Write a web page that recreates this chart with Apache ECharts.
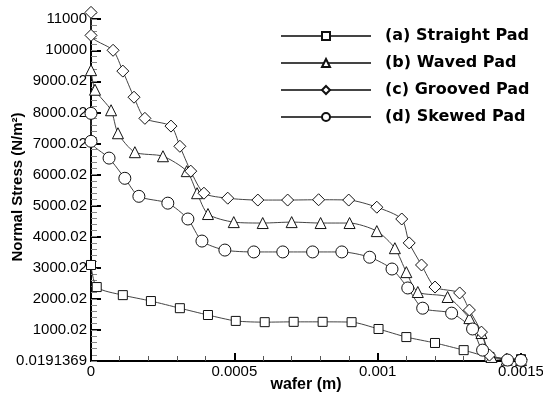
<!DOCTYPE html>
<html>
<head>
<meta charset="utf-8">
<script src="https://cdn.jsdelivr.net/npm/echarts@6/dist/echarts.min.js"></script>
<style>
  html, body { margin: 0; padding: 0; background: #fff; }
  #chart { width: 543px; height: 397px; }
</style>
</head>
<body>
<div id="chart"></div>
<script>
// Data
const seriesNames = ['(a) Straight Pad', '(b) Waved Pad', '(c) Grooved Pad', '(d) Skewed Pad']

const straightX = [0, 0.00002, 0.000111, 0.000209, 0.00031, 0.000408, 0.000505, 0.000606, 0.000707, 0.000808, 0.000909, 0.001003, 0.0011, 0.0012, 0.0013, 0.00139, 0.0015]
const straightY = [3090, 2380, 2120, 1930, 1700, 1480, 1290, 1250, 1260, 1260, 1250, 1030, 770, 580, 350, 130, 60]

const wavedX = [0, 0.000014, 0.00007, 0.000094, 0.000153, 0.000251, 0.000334, 0.00037, 0.000408, 0.000498, 0.000599, 0.0007, 0.000801, 0.000902, 0.000997, 0.00106, 0.0011, 0.00114, 0.001244, 0.00132, 0.001362, 0.001397, 0.00145, 0.0015]
const wavedY = [9360, 8730, 8070, 7330, 6720, 6590, 6110, 5400, 4730, 4470, 4440, 4470, 4440, 4440, 4180, 3630, 2860, 2220, 2060, 1380, 900, 130, 40, 30]

const groovedX = [0, 0, 0.000077, 0.000111, 0.00015, 0.000188, 0.000279, 0.00031, 0.000348, 0.000394, 0.000477, 0.000582, 0.000686, 0.000794, 0.000899, 0.000997, 0.001084, 0.00111, 0.001153, 0.0012, 0.001286, 0.00132, 0.001362, 0.00139, 0.00145, 0.0015]
const groovedY = [11220, 10480, 10000, 9330, 8490, 7810, 7560, 6910, 6110, 5400, 5240, 5180, 5180, 5190, 5180, 4950, 4570, 3800, 3090, 2380, 2190, 1640, 930, 190, 60, 40]

const skewedX = [0, 0, 0.000063, 0.000118, 0.000167, 0.000268, 0.000338, 0.000387, 0.000467, 0.000568, 0.000669, 0.000773, 0.000875, 0.000972, 0.00105, 0.001105, 0.001157, 0.001258, 0.001331, 0.001366, 0.001453, 0.0015]
const skewedY = [7970, 7070, 6530, 5880, 5300, 5080, 4570, 3860, 3570, 3510, 3510, 3510, 3510, 3340, 2960, 2350, 1700, 1540, 1030, 350, 30, 20]

const yTickValues = [0, 1000, 2000, 3000, 4000, 5000, 6000, 7000, 8000, 9000, 10000, 11000]
const yTickLabels = ['0.0191369', '1000.02', '2000.02', '3000.02', '4000.02', '5000.02', '6000.02', '7000.02', '8000.02', '9000.02', '10000', '11000']

const zip = (xs, ys) => xs.map((x, i) => [x, ys[i]])

const makeSeries = (name, xs, ys, symbol, size) => ({
  name,
  type: 'line',
  data: zip(xs, ys),
  smooth: 0.25,
  symbol,
  symbolSize: size,
  showAllSymbol: true,
  clip: false,
  lineStyle: { color: '#444', width: 1 },
  itemStyle: { color: '#fff', borderColor: '#111', borderWidth: 1 },
  emphasis: { disabled: true },
})

const chart = echarts.init(document.getElementById('chart'))

const option = {
  backgroundColor: '#fff',
  animation: false,
  grid: { left: 91, right: 22, top: 13, bottom: 36, containLabel: false, outerBoundsMode: 'none' },
  legend: {
    orient: 'vertical',
    left: 280,
    top: 28,
    padding: 0,
    itemWidth: 90,
    itemHeight: 10,
    itemGap: 11,
    selectedMode: false,
    data: seriesNames,
    textStyle: {
      fontFamily: 'DejaVu Sans',
      fontWeight: 'bold',
      fontSize: 16,
      color: '#000',
      padding: [0, 0, 0, 9],
    },
  },
  xAxis: {
    type: 'value',
    min: 0,
    max: 0.0015,
    interval: 0.0005,
    name: 'wafer (m)',
    nameLocation: 'middle',
    nameGap: 16,
    nameMoveOverlap: false,
    nameTextStyle: { fontFamily: 'Arial', fontWeight: 'bold', fontSize: 16, color: '#000' },
    splitLine: { show: false },
    axisLine: { lineStyle: { color: '#000', width: 2 } },
    axisTick: { inside: true, length: 8, lineStyle: { color: '#000', width: 2 } },
    minorTick: { show: true, splitNumber: 5, length: 5, lineStyle: { color: '#555', width: 1 } },
    axisLabel: {
      margin: 3,
      fontFamily: 'Arial',
      fontSize: 15,
      color: '#000',
      formatter: v => (v === 0 ? '0' : String(+v.toFixed(6))),
    },
  },
  yAxis: [
    {
      type: 'value',
      min: 0,
      max: 11200,
      name: 'Normal Stress (N/m²)',
      nameLocation: 'middle',
      nameGap: 66,
      nameMoveOverlap: false,
      nameTextStyle: { fontFamily: 'Arial', fontWeight: 'bold', fontSize: 15, color: '#000' },
      splitLine: { show: false },
      axisLine: { lineStyle: { color: '#000', width: 2 } },
      axisTick: { inside: true, length: 10, customValues: yTickValues, lineStyle: { color: '#000', width: 2 } },
      axisLabel: {
        margin: 4,
        fontFamily: 'Arial',
        fontSize: 15,
        color: '#000',
        customValues: yTickValues,
        formatter: v => yTickLabels[yTickValues.indexOf(v)] || '',
      },
    },
    {
      // minor ticks only
      type: 'value',
      position: 'left',
      min: 0,
      max: 11200,
      interval: 200,
      splitLine: { show: false },
      axisLine: { show: false },
      axisLabel: { show: false },
      axisTick: { inside: true, length: 6, lineStyle: { color: '#888', width: 1 } },
    },
  ],
  series: [
    makeSeries(seriesNames[0], straightX, straightY, 'rect', 9),
    makeSeries(seriesNames[1], wavedX, wavedY, 'triangle', 11),
    makeSeries(seriesNames[2], groovedX, groovedY, 'diamond', 12),
    makeSeries(seriesNames[3], skewedX, skewedY, 'circle', 12),
  ],
}

chart.setOption(option)
</script>
</body>
</html>
